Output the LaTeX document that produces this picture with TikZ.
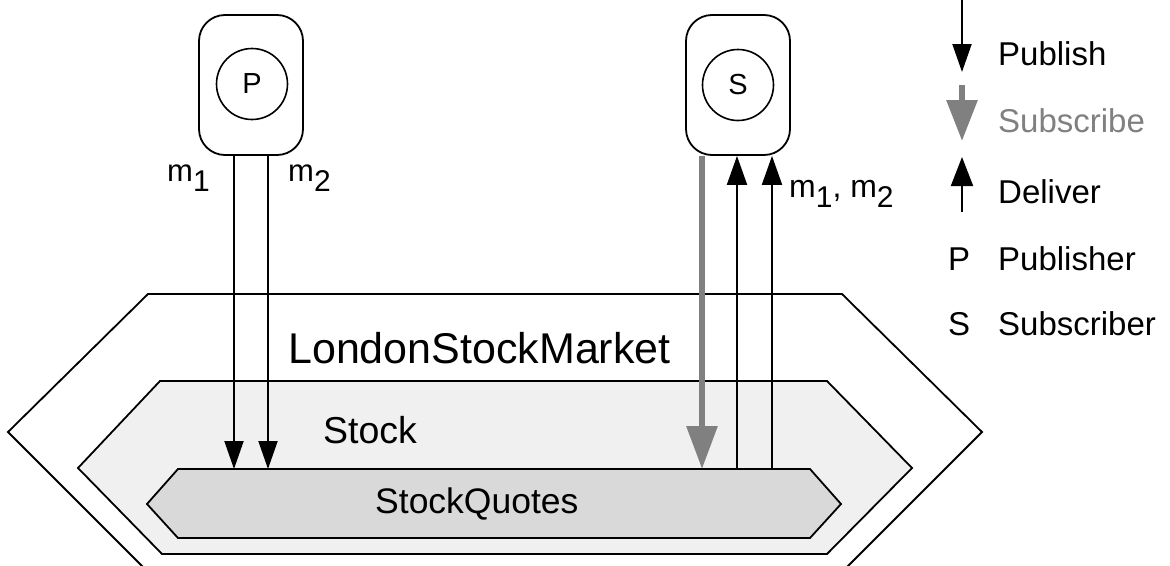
\documentclass[tikz,border=0pt]{standalone}
\usepackage{fontspec}
\setmainfont{Liberation Sans}
\usetikzlibrary{arrows.meta,calc}
\definecolor{subgray}{HTML}{808080}
\definecolor{stockfill}{HTML}{F0F0F0}
\definecolor{quotefill}{HTML}{D9D9D9}
\newcommand\fs[1]{\fontsize{#1}{#1}\selectfont}
\newcommand\msub[1]{m\raisebox{-0.33em}{\fs{30}#1}}
\begin{document}
\begin{tikzpicture}[x=1pt,y=-1pt,
  hexline/.style={draw=black,line width=1.8pt,line join=miter},
  clientbox/.style={draw=black,line width=1.8pt,rounded corners=26pt,minimum width=104pt,minimum height=140pt,inner sep=0pt},
  rolecircle/.style={draw=black,line width=1.6pt,circle,minimum size=71pt,inner sep=0pt,font=\fs{29}},
  txt/.style={inner sep=0pt,anchor=base west},
  pub/.style={draw=black,line width=2pt,-{Triangle[width=19pt,length=28pt]}},
  sub/.style={draw=subgray,line width=6pt,-{Triangle[width=30pt,length=43pt]}},
  del/.style={draw=black,line width=2pt,-{Triangle[width=20pt,length=29pt]}}
]
\useasboundingbox (0,0) rectangle (1170,565);
% hexagons
\path[hexline,fill=white] (148,294) -- (842,294) -- (982,432) -- (842,572) -- (148,572) -- (8,432) -- cycle;
\path[hexline,fill=stockfill] (160,381) -- (827,381) -- (912,468) -- (827,554) -- (162,554) -- (78,468) -- cycle;
\path[hexline,fill=quotefill] (178,469) -- (810,469) -- (841,504) -- (810,538) -- (178,538) -- (147,504) -- cycle;
\node[txt,font=\fs{43}] (lsm) at (288,363) {LondonStockMarket};
\node[txt,font=\fs{37.5}] (stock) at (323,443) {Stock};
\node[txt,font=\fs{35.5}] (quotes) at (375,513) {StockQuotes};
% clients
\node[clientbox] (pbox) at (251,85) {};
\node[rolecircle] (pc) at (252,84) {P};
\node[clientbox] (sbox) at (738,85) {};
\node[rolecircle] (sc) at (738,85) {S};
% anchor points on StockQuotes top edge
\coordinate (q1) at (234,469);
\coordinate (q2) at (268,469);
\coordinate (q3) at (702,469);
\coordinate (q4) at (737,469);
\coordinate (q5) at (772,469);
\draw[pub] (pbox.south -| q1) -- (q1);
\draw[pub] (pbox.south -| q2) -- (q2);
\draw[sub] (sbox.south -| q3) -- (q3);
\draw[del] (q4) -- (sbox.south -| q4);
\draw[del] (q5) -- (sbox.south -| q5);
\node[txt,font=\fs{31}] (m1) at (167,181) {\msub{1}};
\node[txt,font=\fs{31}] (m2) at (288,181) {\msub{2}};
\node[txt,font=\fs{32}] (m12) at (789,197) {\msub{1}, \msub{2}};
% legend
\coordinate (lp1) at (962,0);
\coordinate (lp2) at (962,72);
\coordinate (ls1) at (962,85);
\coordinate (ls2) at (962,141);
\coordinate (ld1) at (962,212);
\coordinate (ld2) at (962,157);
\draw[pub] (lp1) -- (lp2);
\draw[sub,-{Triangle[width=30pt,length=41pt]}] (ls1) -- (ls2);
\draw[del,-{Triangle[width=22pt,length=29pt]}] (ld1) -- (ld2);
\node[txt,font=\fs{33}] (lgpub) at (998,65) {Publish};
\node[txt,font=\fs{33},text=subgray] (lgsub) at (998,132) {Subscribe};
\node[txt,font=\fs{33}] (lgdel) at (998,203) {Deliver};
\node[txt,font=\fs{33}] (lgP) at (948,270) {P};
\node[txt,font=\fs{33}] (lgpubr) at (998,270) {Publisher};
\node[txt,font=\fs{33}] (lgS) at (948,335) {S};
\node[txt,font=\fs{33}] (lgsubr) at (998,335) {Subscriber};
\end{tikzpicture}
\end{document}
